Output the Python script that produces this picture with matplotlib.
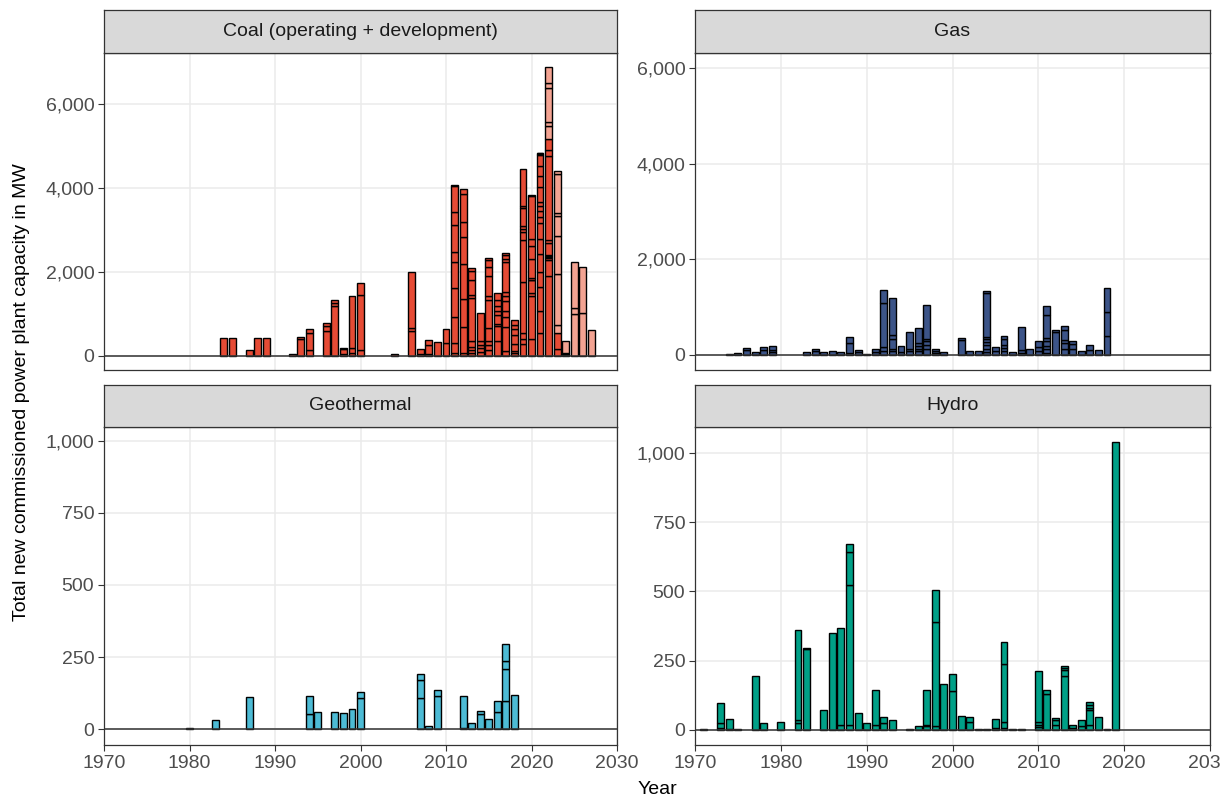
import matplotlib
matplotlib.use('Agg')
import matplotlib.pyplot as plt
from matplotlib.ticker import FuncFormatter

plt.rcParams['font.family'] = ['Liberation Sans', 'DejaVu Sans']

# capacity in MW of each plant, stacked per commissioning year
coal_years = [1984, 1985, 1987, 1988, 1989, 1992, 1993, 1994, 1996, 1997, 1998, 1999,
              2000, 2004, 2006, 2007, 2008, 2009, 2010, 2011, 2012, 2013, 2014, 2015,
              2016, 2017, 2018, 2019, 2020, 2021, 2022, 2023, 2024]
coal_operating = [
    [414], [414], [135], [414], [414], [30], [390, 48], [135, 399, 111],
    [598, 111, 64], [1187, 64, 64], [40, 111, 40], [72, 111, 1244],
    [135, 1308, 287], [30], [598, 63, 1323], [40, 111], [40, 223, 112], [335],
    [295, 350],
    [56, 255, 621, 670, 622, 255, 637, 303, 622, 39],
    [56, 621, 670, 829, 653, 351, 670, 135],
    [56, 79, 80, 128, 1036, 64, 350, 223, 80],
    [88, 96, 79, 96, 669],
    [135, 128, 80, 318, 654, 112, 478, 207, 159, 64],
    [359, 350, 48, 207, 96, 127, 144, 159],
    [104, 573, 240, 143, 239, 112, 111, 702, 79, 96, 47],
    [56, 64, 159, 207, 160, 95, 112],
    [279, 127, 144, 1211, 989, 191, 80, 79, 415, 63, 884],
    [406, 1005, 79, 303, 20, 28, 462, 319, 160, 1036, 15],
    [534, 542, 558, 366, 431, 351, 382, 144, 143, 127, 80, 367, 255, 239, 271, 20, 15, 12],
    [1905, 383, 30, 25, 30, 25, 287, 81, 2008, 126, 264],
    [151, 382],
    [20, 20, 20],
]
coal_dev_years = [2022, 2023, 2024, 2025, 2026, 2027]
coal_development = [
    [311, 95, 813, 112, 383],
    [208, 1195, 925, 478, 63, 941, 63],
    [299],
    [996, 128, 1099],
    [1012, 1100],
    [614],
]

gas_years = [1974, 1975, 1976, 1977, 1978, 1979, 1983, 1984, 1985, 1986, 1987, 1988,
             1989, 1990, 1991, 1992, 1993, 1994, 1995, 1996, 1997, 1998, 1999, 2001,
             2002, 2003, 2004, 2005, 2006, 2007, 2008, 2009, 2010, 2011, 2012, 2013,
             2014, 2015, 2016, 2017, 2018]
gas_plants = [
    [28], [49], [105, 41], [70], [105, 69], [63, 42, 76], [63], [77, 41], [63], [84],
    [56], [49, 195, 125], [63, 49], [21], [63, 62], [77, 97, 906, 286],
    [77, 55, 210, 69, 774], [63, 118], [77, 55, 342], [77, 55, 56, 56, 314],
    [132, 84, 70, 42, 711], [35, 42, 55], [63], [314, 48], [77], [77],
    [63, 55, 84, 70, 70, 41, 920, 42], [91, 69], [77, 69, 56, 140, 55], [63],
    [49, 56, 474], [125], [77, 83, 126], [49, 69, 70, 98, 69, 474, 196], [481, 49],
    [132, 126, 56, 209, 83], [118, 112, 56], [77], [105, 97], [105], [397, 502, 502],
]

geo_years = [1980, 1983, 1987, 1994, 1995, 1997, 1998, 1999, 2000, 2007, 2008, 2009,
             2012, 2013, 2014, 2015, 2016, 2017, 2018]
geo_plants = [
    [3], [30], [110], [53, 61], [60], [60], [55], [69], [109, 21], [109, 60, 21], [12],
    [116, 21], [5, 109], [21], [53, 9], [35], [58, 41], [99, 109, 28, 58], [117],
]

hydro_years = [1971, 1973, 1974, 1975, 1977, 1978, 1980, 1982, 1983, 1985, 1986, 1987,
               1988, 1989, 1990, 1991, 1992, 1993, 1995, 1996, 1997, 1998, 1999, 2000,
               2001, 2002, 2003, 2004, 2005, 2006, 2007, 2008, 2010, 2011, 2012, 2013,
               2014, 2015, 2016, 2017, 2018, 2019]
hydro_plants = [
    [2], [7, 17, 73], [4, 35], [2], [193], [26], [28], [26, 10, 324], [292, 5], [70],
    [350], [17, 350], [17, 505, 121, 29], [60], [24], [17, 128], [24, 22], [36], [2],
    [12], [12, 5, 128], [12, 379, 114], [167], [140, 61], [51], [29, 17], [2], [2],
    [5, 34], [7, 22, 210, 78], [4], [2], [10, 9, 10, 183], [130, 12], [19, 17, 7],
    [193, 22, 7, 7], [7, 10], [14, 20], [19, 51, 10, 9, 10], [46], [2], [1040],
]

RED = '#E64B35'
SALMON = '#F3A392'
BLUE = '#3C5488'
CYAN = '#4DBBD5'
GREEN = '#00A087'


def stacked(ax, years, stacks, color, base=None):
    tops = {}
    for yr, plants in zip(years, stacks):
        bottom = base.get(yr, 0) if base else 0
        for mw in plants:
            ax.bar(yr, mw, bottom=bottom, width=0.8, color=color,
                   edgecolor='black', linewidth=1.0, zorder=2)
            bottom += mw
        tops[yr] = bottom
    return tops


def panel(fig, rect, strip_rect, title, ylim, yticks, show_x):
    ax = fig.add_axes(rect)
    ax.set_xlim(1970, 2030)
    ax.set_ylim(*ylim)
    ax.set_yticks(yticks)
    ax.set_xticks(range(1970, 2031, 10))
    ax.yaxis.set_major_formatter(FuncFormatter(lambda v, p: f'{v:,.0f}'))
    ax.grid(color='#EBEBEB', linewidth=1.1, zorder=0)
    ax.set_axisbelow(True)
    ax.axhline(0, color='#333333', linewidth=1.1, zorder=3)
    for s in ax.spines.values():
        s.set_color('#333333')
        s.set_linewidth(0.9)
    ax.tick_params(colors='#333333', labelcolor='#4D4D4D', labelsize=14,
                   length=4, width=0.8, pad=3)
    if not show_x:
        ax.tick_params(axis='x', bottom=False, labelbottom=False)

    st = fig.add_axes(strip_rect)
    st.set_facecolor('#D9D9D9')
    st.set_xticks([])
    st.set_yticks([])
    for s in st.spines.values():
        s.set_color('#333333')
        s.set_linewidth(0.9)
    st.text(0.5, 0.5, title, ha='center', va='center', fontsize=14, color='#1A1A1A',
            transform=st.transAxes)
    return ax


W, H = 1221, 800
fig = plt.figure(figsize=(W / 100, H / 100), dpi=100)


def box(x0, x1, y0, y1):
    return [x0 / W, 1 - y1 / H, (x1 - x0) / W, (y1 - y0) / H]


ax_coal = panel(fig, box(104, 617, 53, 370), box(104, 617, 10, 53),
                'Coal (operating + development)', (-344, 7222), [0, 2000, 4000, 6000], False)
ax_gas = panel(fig, box(695, 1210, 53, 370), box(695, 1210, 10, 53),
               'Gas', (-314, 6314), [0, 2000, 4000, 6000], False)
ax_geo = panel(fig, box(104, 617, 427, 745), box(104, 617, 385, 427),
               'Geothermal', (-55, 1048), [0, 250, 500, 750, 1000], True)
ax_hydro = panel(fig, box(695, 1210, 427, 745), box(695, 1210, 385, 427),
                 'Hydro', (-55, 1094), [0, 250, 500, 750, 1000], True)

coal_tops = stacked(ax_coal, coal_years, coal_operating, RED)
stacked(ax_coal, coal_dev_years, coal_development, SALMON, base=coal_tops)
stacked(ax_gas, gas_years, gas_plants, BLUE)
stacked(ax_geo, geo_years, geo_plants, CYAN)
stacked(ax_hydro, hydro_years, hydro_plants, GREEN)

fig.text(657 / W, 1 - 790 / H, 'Year', ha='center', va='center', fontsize=14)
fig.text(22 / W, 1 - 392 / H, 'Total new commissioned power plant capacity in MW',
         ha='center', va='center', rotation=90, fontsize=14)

fig.savefig('out.png', dpi=100)
